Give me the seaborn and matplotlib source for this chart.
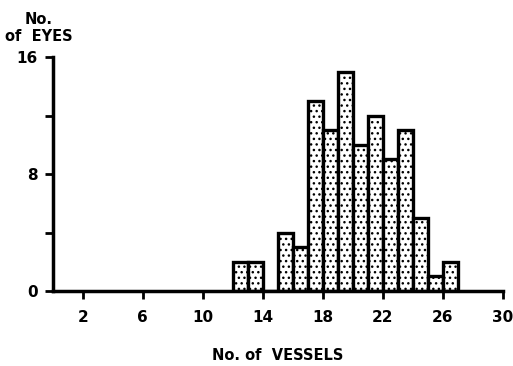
import matplotlib
matplotlib.use("Agg")
import matplotlib.pyplot as plt
import seaborn as sns
import numpy as np
import pandas as pd

vessels = [12, 13, 14, 15, 16, 17, 18, 19, 20, 21, 22, 23, 24, 25, 26]
eyes = [2, 2, 0, 4, 3, 13, 11, 15, 10, 12, 9, 11, 5, 1, 2]
xticks = [2, 6, 10, 14, 18, 22, 26, 30]
yticks = [0, 4, 8, 12, 16]
ylabels = ["0", "", "8", "", "16"]

df = pd.DataFrame({"vessels": vessels, "eyes": eyes})

sns.set_style("white")
plt.rcParams['font.family'] = ['DejaVu Sans']
plt.rcParams['hatch.linewidth'] = 1.0
plt.rcParams['hatch.color'] = '#555555'
plt.rcParams['text.color'] = 'black'
plt.rcParams['xtick.color'] = 'black'
plt.rcParams['ytick.color'] = 'black'
plt.rcParams['axes.labelcolor'] = 'black'

fig = plt.figure(figsize=(5.13, 3.66), dpi=100)
ax = fig.add_axes([0.103, 0.205, 0.877, 0.639])

sns.histplot(data=df, x="vessels", weights="eyes", binwidth=1,
             binrange=(12, 27), ax=ax, stat="count", color="white",
             edgecolor="black", linewidth=2.4, alpha=1.0)
for p in ax.patches:
    p.set_hatch("...")
    p.set_facecolor("white")

ax.set_xlim(0, 30)
ax.set_ylim(0, 16)
ax.set_xticks(xticks)
ax.set_xticklabels([str(t) for t in xticks], fontsize=11, fontweight="bold")
ax.set_yticks(yticks)
ax.set_yticklabels(ylabels, fontsize=11, fontweight="bold")
ax.tick_params(axis="both", direction="out", length=6, width=2, color="black",
               left=True, bottom=True, pad=5)
ax.tick_params(axis="x", pad=8)
for s in ["top", "right"]:
    ax.spines[s].set_visible(False)
for s in ["left", "bottom"]:
    ax.spines[s].set_linewidth(2.5)
    ax.spines[s].set_color("black")
ax.set_ylabel("")
ax.set_xlabel("No. of  VESSELS", fontsize=10.5, fontweight="bold", labelpad=16)
fig.text(0.076, 0.88, "No.\nof  EYES", ha="center", va="bottom",
         fontsize=10.5, fontweight="bold", linespacing=1.15, color="black")

fig.savefig("out.png", dpi=100)
